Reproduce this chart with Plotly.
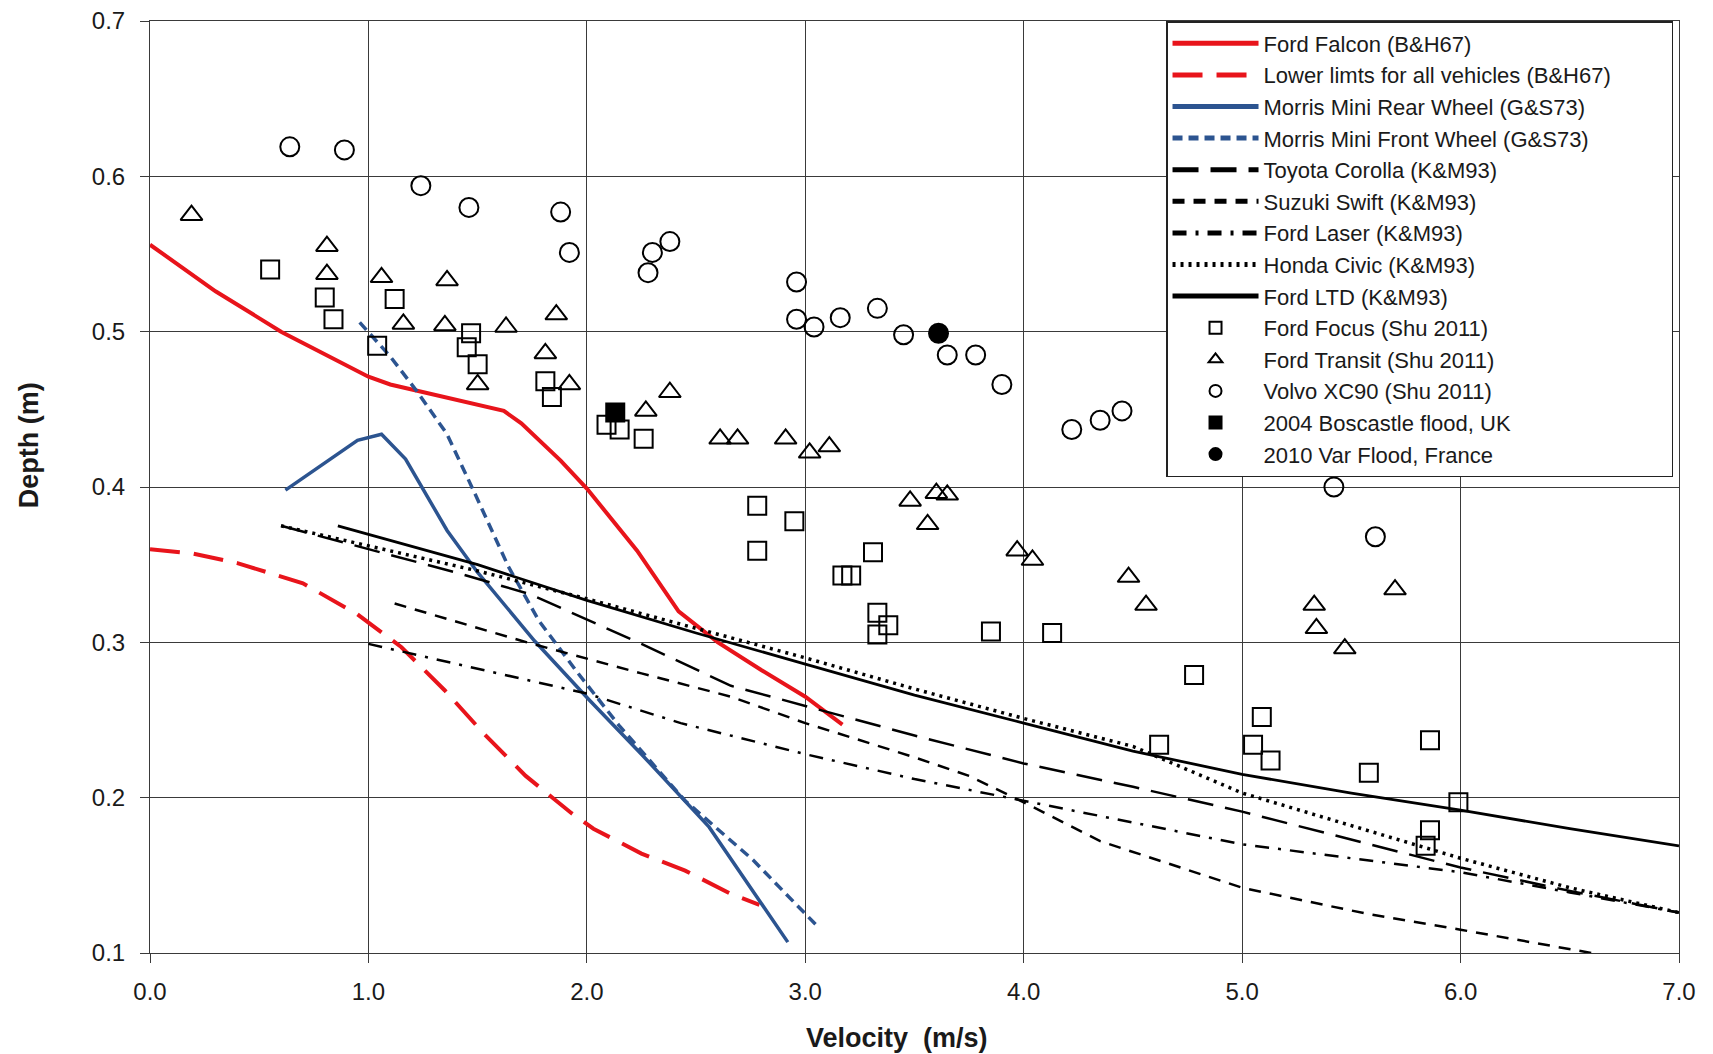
import plotly.graph_objects as go

# ---------------- data ----------------
falcon_x = [0.0, 0.3, 0.6, 0.9, 1.0, 1.1, 1.35, 1.62, 1.7, 1.88, 2.0, 2.23, 2.42, 2.6, 2.8, 3.0, 3.17]
falcon_y = [0.556, 0.526, 0.500, 0.478, 0.471, 0.466, 0.458, 0.449, 0.441, 0.417, 0.399, 0.359, 0.320, 0.300, 0.282, 0.265, 0.247]

lower_x = [0.0, 0.2, 0.4, 0.7, 0.95, 1.15, 1.35, 1.53, 1.72, 1.93, 2.03, 2.25, 2.45, 2.66, 2.79]
lower_y = [0.360, 0.357, 0.351, 0.338, 0.318, 0.297, 0.269, 0.241, 0.214, 0.190, 0.180, 0.164, 0.153, 0.138, 0.131]

rear_x = [0.62, 0.95, 1.06, 1.17, 1.36, 1.5, 1.76, 2.01, 2.25, 2.56, 2.92]
rear_y = [0.398, 0.430, 0.434, 0.418, 0.372, 0.345, 0.301, 0.263, 0.228, 0.181, 0.107]

front_x = [0.96, 1.1, 1.22, 1.36, 1.49, 1.64, 1.78, 1.96, 2.15, 2.45, 2.76, 3.05]
front_y = [0.506, 0.484, 0.462, 0.434, 0.395, 0.349, 0.314, 0.280, 0.246, 0.198, 0.160, 0.118]

corolla_x = [0.6, 1.0, 1.4, 1.74, 2.25, 2.66, 3.0, 3.5, 4.0, 4.5, 5.0, 5.58, 6.0, 6.5, 7.0]
corolla_y = [0.375, 0.360, 0.345, 0.331, 0.299, 0.272, 0.259, 0.240, 0.222, 0.207, 0.191, 0.170, 0.155, 0.140, 0.126]

swift_x = [1.12, 1.7, 2.25, 2.66, 3.0, 3.5, 3.75, 4.0, 4.35, 5.0, 5.58, 6.0, 6.6]
swift_y = [0.325, 0.301, 0.280, 0.265, 0.248, 0.226, 0.214, 0.197, 0.172, 0.142, 0.125, 0.115, 0.100]

laser_x = [1.0, 1.5, 2.0, 2.43, 3.0, 3.5, 4.0, 4.35, 5.0, 5.5, 6.0, 6.5, 7.0]
laser_y = [0.299, 0.283, 0.267, 0.248, 0.228, 0.212, 0.198, 0.188, 0.170, 0.161, 0.152, 0.139, 0.126]

civic_x = [0.6, 1.0, 1.5, 2.0, 2.5, 3.0, 3.5, 4.0, 4.5, 5.0, 5.5, 6.0, 6.5, 7.0]
civic_y = [0.375, 0.362, 0.346, 0.328, 0.309, 0.290, 0.270, 0.251, 0.233, 0.203, 0.182, 0.161, 0.142, 0.126]

ltd_x = [0.86, 1.5, 2.0, 2.5, 3.0, 3.5, 4.0, 4.5, 5.0, 5.5, 6.0, 6.5, 7.0]
ltd_y = [0.375, 0.350, 0.327, 0.306, 0.286, 0.266, 0.248, 0.230, 0.215, 0.203, 0.192, 0.180, 0.169]

focus_x = [0.55, 0.80, 0.84, 1.04, 1.12, 1.47, 1.45, 1.50, 1.81, 1.84, 2.09, 2.15, 2.26, 2.78, 2.78,
           2.95, 3.17, 3.21, 3.31, 3.33, 3.38, 3.33, 3.85, 4.13, 4.78, 4.62, 5.05, 5.09, 5.13, 5.58,
           5.86, 5.99, 5.86, 5.84]
focus_y = [0.540, 0.522, 0.508, 0.491, 0.521, 0.499, 0.490, 0.479, 0.468, 0.458, 0.440, 0.437, 0.431, 0.388, 0.359,
           0.378, 0.343, 0.343, 0.358, 0.319, 0.311, 0.305, 0.307, 0.306, 0.279, 0.234, 0.234, 0.252, 0.224, 0.216,
           0.237, 0.197, 0.179, 0.169]

transit_x = [0.19, 0.81, 0.81, 1.06, 1.16, 1.35, 1.36, 1.50, 1.63, 1.81, 1.86, 1.92, 2.27, 2.38, 2.61, 2.69,
             2.91, 3.02, 3.11, 3.48, 3.56, 3.60, 3.65, 3.97, 4.04, 4.48, 4.56, 5.33, 5.34, 5.47, 5.70]
transit_y = [0.575, 0.555, 0.537, 0.535, 0.505, 0.504, 0.533, 0.466, 0.503, 0.486, 0.511, 0.466, 0.449, 0.461, 0.431, 0.431,
             0.431, 0.422, 0.426, 0.391, 0.376, 0.396, 0.395, 0.359, 0.353, 0.342, 0.324, 0.324, 0.309, 0.296, 0.334]

volvo_x = [0.64, 0.89, 1.24, 1.46, 1.88, 1.92, 2.28, 2.30, 2.38, 2.96, 2.96, 3.04, 3.16, 3.33, 3.45, 3.65,
           3.78, 3.90, 4.22, 4.35, 4.45, 5.42, 5.61]
volvo_y = [0.619, 0.617, 0.594, 0.580, 0.577, 0.551, 0.538, 0.551, 0.558, 0.532, 0.508, 0.503, 0.509, 0.515, 0.498, 0.485,
           0.485, 0.466, 0.437, 0.443, 0.449, 0.400, 0.368]

boscastle_x = [2.13]
boscastle_y = [0.448]

var_x = [3.61]
var_y = [0.499]

x_ticks = [0, 1, 2, 3, 4, 5, 6, 7]
x_tick_labels = ["0.0", "1.0", "2.0", "3.0", "4.0", "5.0", "6.0", "7.0"]
y_ticks = [0.1, 0.2, 0.3, 0.4, 0.5, 0.6, 0.7]
y_tick_labels = ["0.1", "0.2", "0.3", "0.4", "0.5", "0.6", "0.7"]

x_title = "Velocity&nbsp; (m/s)"
y_title = "Depth (m)"

# ---------------- styles ----------------
RED = "#E8141B"
BLUE = "#2C5490"
BLACK = "#000000"
FONT = "Liberation Sans, Arial, sans-serif"

fig = go.Figure()

def line(x, y, name, color, width, dash):
    fig.add_trace(go.Scatter(x=x, y=y, name=name, mode="lines",
                             line=dict(color=color, width=width, dash=dash)))

def marks(x, y, name, symbol, size=18, lw=2):
    fig.add_trace(go.Scatter(x=x, y=y, name=name, mode="markers",
                             marker=dict(symbol=symbol, size=size, color="black",
                                         line=dict(color="black", width=lw))))

PAD = "&nbsp;" * 9  # widens the legend box to the reference's width

line(falcon_x, falcon_y, "Ford Falcon (B&H67)", RED, 4, "solid")
line(lower_x, lower_y, "Lower limts for all vehicles (B&H67)" + PAD, RED, 4, "30px,14px")
line(rear_x, rear_y, "Morris Mini Rear Wheel (G&S73)", BLUE, 3.5, "solid")
line(front_x, front_y, "Morris Mini Front Wheel (G&S73)", BLUE, 3.5, "10px,6px")
line(corolla_x, corolla_y, "Toyota Corolla (K&M93)", BLACK, 2.5, "26px,12px")
line(swift_x, swift_y, "Suzuki Swift (K&M93)", BLACK, 2.5, "12px,9px")
line(laser_x, laser_y, "Ford Laser (K&M93)", BLACK, 2.5, "14px,9px,3px,9px")
line(civic_x, civic_y, "Honda Civic (K&M93)", BLACK, 3.5, "3px,5px")
line(ltd_x, ltd_y, "Ford LTD (K&M93)", BLACK, 2.8, "solid")
marks(focus_x, focus_y, "Ford Focus (Shu 2011)", "square-open", 18)
marks(transit_x, transit_y, "Ford Transit (Shu 2011)", "triangle-up-open", 19)
marks(volvo_x, volvo_y, "Volvo XC90 (Shu 2011)", "circle-open", 19)
marks(boscastle_x, boscastle_y, "2004 Boscastle flood, UK", "square", 18)
marks(var_x, var_y, "2010 Var Flood, France", "circle", 19)

axis_common = dict(
    showgrid=True, gridcolor="#3a3a3a", gridwidth=1,
    showline=True, linecolor="#3a3a3a", linewidth=1, mirror=True,
    ticks="outside", ticklen=9, tickcolor="#3a3a3a", tickwidth=1,
    zeroline=False,
    tickfont=dict(family=FONT, size=24, color="#1a1a1a"),
)

fig.update_layout(
    width=1713, height=1054,
    margin=dict(l=150, r=34, t=21, b=101, autoexpand=False),
    paper_bgcolor="white", plot_bgcolor="white",
    font=dict(family=FONT, color="#1a1a1a"),
    xaxis=dict(range=[0, 7], tickvals=x_ticks, ticktext=x_tick_labels,
               ticklabelstandoff=8, **axis_common),
    yaxis=dict(range=[0.1, 0.7], tickvals=y_ticks, ticktext=y_tick_labels,
               ticklabelstandoff=10, **axis_common),
    legend=dict(x=0.6645, y=1.0, xanchor="left", yanchor="top",
                bgcolor="white", bordercolor="#222", borderwidth=1.5,
                font=dict(family=FONT, size=22, color="#1a1a1a"),
                itemsizing="constant", tracegroupgap=0, itemwidth=86),
    showlegend=True,
    annotations=[
        dict(text="<b>" + x_title + "</b>", xref="paper", yref="paper",
             x=0.4886, y=-0.0915, xanchor="center", yanchor="middle", showarrow=False,
             font=dict(family=FONT, size=27, color="#1a1a1a")),
        dict(text="<b>" + y_title + "</b>", xref="paper", yref="paper",
             x=-0.079, y=0.545, xanchor="center", yanchor="middle", showarrow=False,
             textangle=-90, font=dict(family=FONT, size=27, color="#1a1a1a")),
    ],
)

fig.write_html("out.html")
